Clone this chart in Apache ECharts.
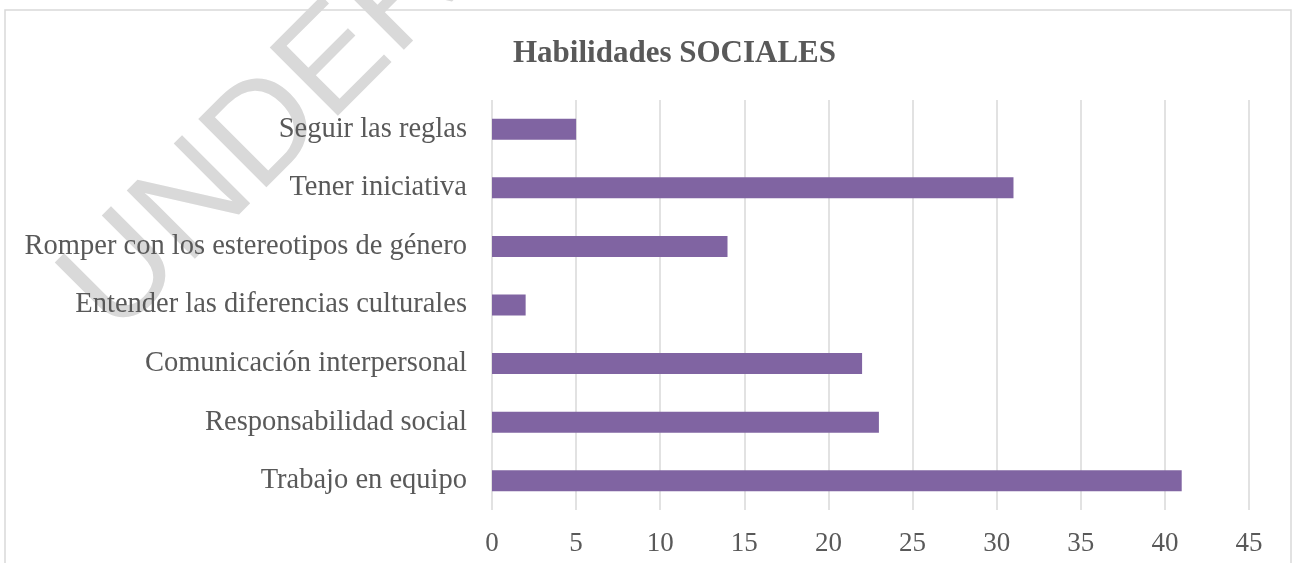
<!DOCTYPE html>
<html>
<head>
<meta charset="utf-8">
<script src="https://cdn.jsdelivr.net/npm/echarts@6/dist/echarts.min.js"></script>
<style>
  html, body { margin: 0; padding: 0; background: #fff; }
  #chart { width: 1292px; height: 563px; }
</style>
</head>
<body>
<div id="chart"></div>
<script>
// categories top to bottom, as in the picture
const categories = [
  'Seguir las reglas',
  'Tener iniciativa',
  'Romper con los estereotipos de género',
  'Entender las diferencias culturales',
  'Comunicación interpersonal',
  'Responsabilidad social',
  'Trabajo en equipo'
];
const values = [5, 31, 14, 2, 22, 23, 41];
const axisMax = 45;
const axisStep = 5;

const chart = echarts.init(document.getElementById('chart'));
const textColor = '#595959';
const fontFamily = '"Liberation Serif", serif';

const option = {
  animation: false,
  backgroundColor: '#fff',
  title: {
    text: 'Habilidades SOCIALES',
    left: 508,
    top: 33,
    textStyle: {
      fontFamily: fontFamily,
      fontSize: 31,
      fontWeight: 'bold',
      color: textColor
    }
  },
  graphic: [
    {
      // chart frame
      type: 'rect',
      z: -10,
      shape: { x: 5, y: 10, width: 1286, height: 620 },
      style: { fill: 'none', stroke: '#d9d9d9', lineWidth: 1.5 }
    },
    {
      // watermark
      type: 'text',
      z: -5,
      x: 88,
      y: 311,
      rotation: Math.PI / 4,
      style: {
        text: 'UNDER',
        font: '140px "Liberation Sans", sans-serif',
        fill: '#d9d9d9',
        textAlign: 'left',
        textVerticalAlign: 'middle'
      }
    }
  ],
  grid: {
    left: 492,
    right: 43,
    top: 100,
    bottom: 53,
    containLabel: false
  },
  xAxis: {
    type: 'value',
    min: 0,
    max: axisMax,
    interval: axisStep,
    axisLine: { show: false },
    axisTick: { show: false },
    axisLabel: {
      margin: 20,
      fontFamily: fontFamily,
      fontSize: 27,
      color: textColor
    },
    splitLine: { show: true, lineStyle: { color: '#d9d9d9', width: 1.5 } }
  },
  yAxis: {
    type: 'category',
    inverse: true,
    data: categories,
    axisLine: { show: false },
    axisTick: { show: false },
    axisLabel: {
      margin: 25,
      fontFamily: fontFamily,
      fontSize: 28.5,
      color: textColor
    }
  },
  series: [
    {
      type: 'bar',
      data: values,
      barWidth: 21,
      itemStyle: { color: '#8064A2' }
    }
  ]
};

chart.setOption(option);
</script>
</body>
</html>
